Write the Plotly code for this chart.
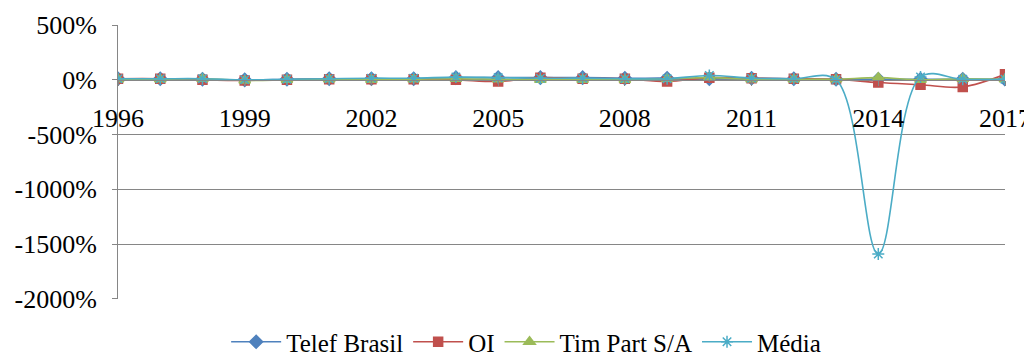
import plotly.graph_objects as go

years = list(range(1996, 2018))
telef = [10, 10, 5, 0, 5, 10, 10, 10, 20, 20, 20, 20, 15, 15, 10, 15, 10, 5, 5, 5, 5, 5]
oi = [10, 10, 0, -5, 0, 5, 5, 5, 0, -15, 20, 10, 10, -15, 20, 15, 10, 5, -25, -45, -65, 50]
tim = [5, 5, 10, -5, 0, 5, 0, 5, 10, 5, 0, 0, 0, 10, 20, 5, 5, 5, 20, 0, 10, 5]
media = [10, 10, 10, 0, 5, 10, 15, 15, 25, 20, 15, 15, 10, 10, 40, 15, 10, 0, -1590, 25, 5, 5]

x_ticks = [1996, 1999, 2002, 2005, 2008, 2011, 2014, 2017]
x_tick_labels = [str(v) for v in x_ticks]
y_ticks = [-2000, -1500, -1000, -500, 0, 500]
y_tick_labels = ["-2000%", "-1500%", "-1000%", "-500%", "0%", "500%"]

series = [
    ("Telef Brasil", telef, "#4F81BD", "diamond", 10),
    ("OI", oi, "#C0504D", "square", 9),
    ("Tim Part S/A", tim, "#9BBB59", "triangle-up", 10),
    ("Média", media, "#4BACC6", "asterisk-open", 10),
]

fig = go.Figure()
for name, vals, color, sym, size in series:
    fig.add_trace(go.Scatter(
        x=years, y=vals, name=name, mode="lines+markers",
        line=dict(color=color, width=1.6, shape="spline", smoothing=1),
        marker=dict(symbol=sym, size=size, color=color,
                    line=dict(color=color, width=1.5)),
    ))

font_family = "Liberation Serif"
fig.update_layout(
    width=1024, height=352,
    margin=dict(l=110, r=27, t=17, b=61, autoexpand=False),
    paper_bgcolor="white", plot_bgcolor="white",
    font=dict(family=font_family, size=24, color="black"),
    showlegend=True,
    legend=dict(orientation="h", xref="container", x=0.506, xanchor="center",
                yref="container", y=0.051, yanchor="middle",
                font=dict(family=font_family, size=25, color="black"),
                itemwidth=50, tracegroupgap=0, bgcolor="rgba(0,0,0,0)"),
    xaxis=dict(
        range=[1996, 2017], tickvals=x_ticks, ticktext=x_tick_labels,
        anchor="free", position=0.8, automargin=False,
        showgrid=False, zeroline=False,
        showline=True, linecolor="#868686", linewidth=1,
        ticks="outside", ticklen=5, tickcolor="#868686",
        ticklabelstandoff=10,
        tickfont=dict(family=font_family, size=26, color="black"),
    ),
    yaxis=dict(
        range=[-2000.5, 500.5], tickvals=y_ticks, ticktext=y_tick_labels,
        showgrid=True, gridcolor="#868686", gridwidth=1, automargin=False,
        zeroline=False,
        showline=True, linecolor="#868686", linewidth=1,
        ticks="outside", ticklen=5, tickcolor="#868686",
        ticklabelstandoff=10,
        tickfont=dict(family=font_family, size=26, color="black"),
    ),
)

fig.write_html("out.html")
